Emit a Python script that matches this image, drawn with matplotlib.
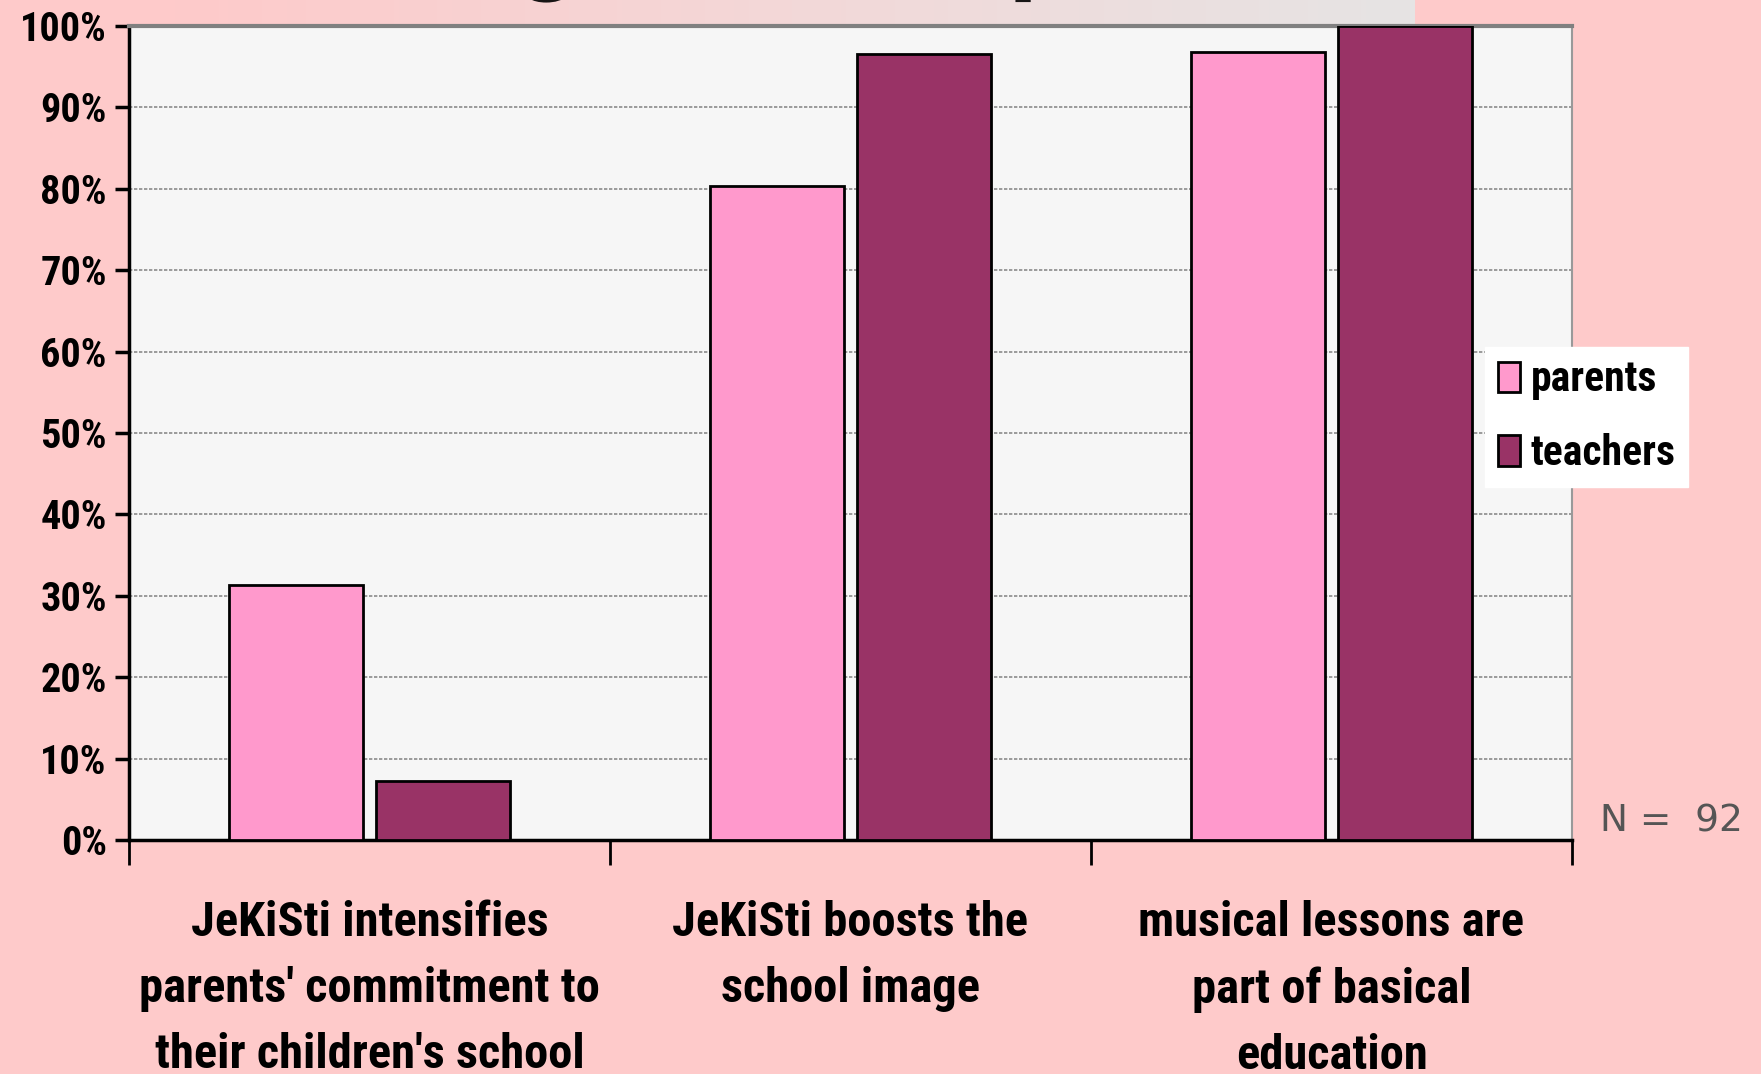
import matplotlib
matplotlib.use('Agg')
import matplotlib.pyplot as plt
import matplotlib.font_manager as fm
import matplotlib.patheffects as pe
from matplotlib.colors import LinearSegmentedColormap
import numpy as np

# data
categories = ["JeKiSti intensifies\nparents' commitment to\ntheir children's school",
              "JeKiSti boosts the\nschool image",
              "musical lessons are\npart of basical\neducation"]
parents = [31.3, 80.4, 96.8]
teachers = [7.2, 96.6, 100.0]
series_names = ['parents', 'teachers']
yticks = np.arange(0, 101, 10)
title = 'Findings of the pilot'

# colors
C_BG = '#fecaca'
C_PLOT = '#f6f6f6'
C_PARENTS = '#ff99cc'
C_TEACHERS = '#993366'
C_TITLE = '#990000'

names = {f.name for f in fm.fontManager.ttflist}
NARROW = next((n for n in ['Liberation Sans Narrow', 'DejaVu Sans Condensed', 'Roboto Condensed']
               if n in names), 'Liberation Sans')

fig = plt.figure(figsize=(17.61, 10.74), dpi=100, facecolor=C_BG)

# title band (cut off at the top)
band = fig.add_axes([170 / 1761, 1 - 24 / 1074, (1415 - 170) / 1761, 24 / 1074])
grad = np.linspace(0, 1, 256)[None, :]
cmap = LinearSegmentedColormap.from_list('band', [C_BG, '#f3d8d8', '#e6e4e4'])
band.imshow(grad, aspect='auto', cmap=cmap, extent=[0, 1, 0, 1])
band.axis('off')
fig.text(0.40, 1.026, title, ha='center', va='baseline', fontsize=80, fontweight='bold',
         family='Liberation Sans', color=C_TITLE,
         path_effects=[pe.SimplePatchShadow(offset=(5, -5), shadow_rgbFace='black', alpha=0.9),
                       pe.Normal()])

# main chart
ax = fig.add_axes([129 / 1761, 1 - 840 / 1074, (1572 - 129) / 1761, (840 - 26) / 1074])
ax.set_facecolor(C_PLOT)

x = np.arange(len(categories))
width = 0.278
off = 0.153
ax.bar(x - off, parents, width, color=C_PARENTS, edgecolor='black', linewidth=2,
       label=series_names[0], zorder=3)
ax.bar(x + off, teachers, width, color=C_TEACHERS, edgecolor='black', linewidth=2,
       label=series_names[1], zorder=3)

ax.set_xlim(-0.5, len(categories) - 0.5)
ax.set_ylim(0, 100)
ax.set_yticks(yticks)
ax.set_yticklabels([f'{v}%' for v in yticks], fontsize=29, fontweight='bold', family=NARROW)
ax.yaxis.grid(True, color='#8a8a8a', linestyle=(0, (2, 1)), linewidth=1.2, zorder=1)

# category labels between the tick marks
ax.set_xticks(np.arange(len(categories) + 1) - 0.5)
ax.set_xticklabels([])
ax.set_xticks(x, minor=True)
ax.set_xticklabels(categories, minor=True, fontsize=35, fontweight='bold', family=NARROW,
                   linespacing=1.56, va='top')
ax.tick_params(axis='x', which='minor', length=0, pad=43)
ax.tick_params(axis='x', which='major', direction='out', length=18, width=2, color='black')
ax.tick_params(axis='y', direction='out', length=10, width=2.5, color='black', pad=6)

for side in ['left', 'bottom']:
    ax.spines[side].set_color('black')
    ax.spines[side].set_linewidth(2.5)
ax.spines['top'].set_color('#808080')
ax.spines['top'].set_linewidth(3)
ax.spines['right'].set_color('#999999')
ax.spines['right'].set_linewidth(1.5)

leg = fig.legend(loc='upper left', bbox_to_anchor=(1485 / 1761, 1 - 347 / 1074),
                 prop=fm.FontProperties(family=NARROW, weight='bold', size=30),
                 frameon=True, fancybox=False, framealpha=1, facecolor='white', edgecolor='white',
                 handlelength=0.55, handleheight=0.75, handletextpad=0.25, labelspacing=0.78,
                 borderpad=0.3, borderaxespad=0)

fig.text(1600 / 1761, 1 - 840 / 1074, 'N =  92', fontsize=27, color='#555555',
         family='DejaVu Sans', ha='left', va='bottom')

fig.savefig('out.png', dpi=100, facecolor=C_BG)
